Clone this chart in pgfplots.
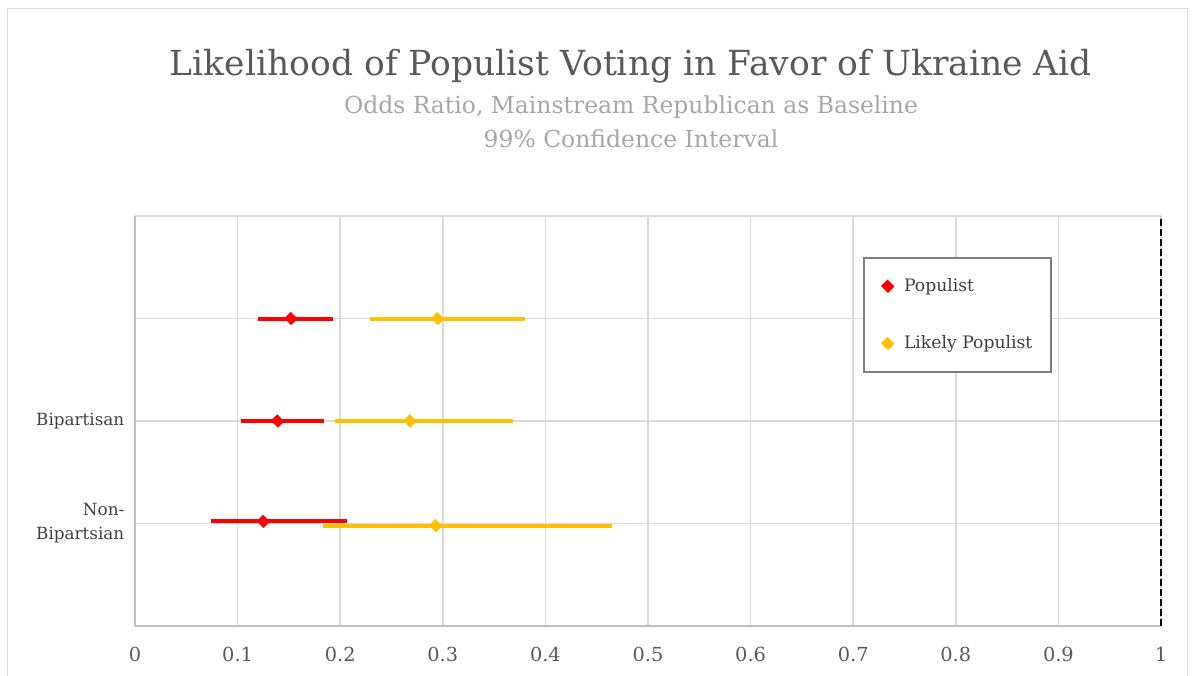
\documentclass[border=0pt]{standalone}
\usepackage{fontspec}
\setmainfont{DejaVu Serif}
\usepackage{pgfplots}
\usepackage{pgfplotstable}
\pgfplotsset{compat=1.18}

\definecolor{titlegray}{HTML}{595959}
\definecolor{subgray}{HTML}{A6A6A6}
\definecolor{labelgray}{HTML}{595959}
\definecolor{textdark}{HTML}{404040}
\definecolor{gridgray}{HTML}{D9D9D9}
\definecolor{axisgray}{HTML}{BFBFBF}
\definecolor{boxgray}{HTML}{7F7F7F}
\definecolor{popred}{HTML}{FF0000}
\definecolor{popyellow}{HTML}{FFC000}

% odds ratio (or) with 99% interval (lo, hi); y = row position
\pgfplotstableread{
y     or     lo     hi
3     0.152  0.120  0.193
2     0.139  0.103  0.184
1.02  0.125  0.074  0.207
}\populist
\pgfplotstableread{
y     or     lo     hi
3     0.295  0.229  0.380
2     0.268  0.195  0.368
0.98  0.293  0.183  0.465
}\likely

\pgfplotsset{
  ci marker/.style={only marks, mark=square*,
    mark options={rotate=45, yscale=1.1, draw=#1, fill=#1, line width=0.3pt},
    mark size=3.2pt, color=#1,
    error bars/.cd, x dir=both, x explicit, error mark=none,
    error bar style={line width=3pt, color=#1}},
}

\begin{document}
\begin{tikzpicture}
\begin{scope}[x=0.75pt,y=-0.75pt]
\useasboundingbox (0,0) rectangle (1194,675);
\clip (0,0) rectangle (1194,675);
% chart frame
\draw[gridgray,line width=0.75pt] (7,700) -- (7,8) -- (1187,8) -- (1187,700);

% titles
\node[font=\fontsize{25.9}{30}\selectfont,text=titlegray,anchor=base] at (631,75) {Likelihood of Populist Voting in Favor of Ukraine Aid};
\node[font=\fontsize{17.6}{21}\selectfont,text=subgray,anchor=base] at (631,113) {Odds Ratio, Mainstream Republican as Baseline};
\node[font=\fontsize{17.6}{21}\selectfont,text=subgray,anchor=base] at (631,147) {99\% Confidence Interval};
\end{scope}

\begin{axis}[
  at={(101.25pt,-469.5pt)}, anchor=south west,
  scale only axis,
  width=769.5pt, height=307.5pt,
  xmin=0, xmax=1, ymin=0, ymax=4,
  xtick={0,0.1,0.2,0.3,0.4,0.5,0.6,0.7,0.8,0.9,1},
  xticklabels={0,0.1,0.2,0.3,0.4,0.5,0.6,0.7,0.8,0.9,1},
  ytick={0,1,2,3,4},
  yticklabels={,{Non-\\Bipartsian},Bipartisan,,},
  major tick length=0pt,
  grid=major,
  major grid style={draw=gridgray,line width=1.1pt},
  axis x line*=bottom, axis y line*=left,
  axis line style={draw=axisgray,line width=1.1pt,-},
  xticklabel style={font=\fontsize{14.5}{17}\selectfont,text=labelgray,yshift=-12pt},
  yticklabel style={font=\fontsize{12.6}{18}\selectfont,text=textdark,align=right,xshift=-4.5pt},
  clip=false,
  legend style={
    at={(0.7096,0.9)}, anchor=north west,
    draw=boxgray, line width=1.5pt,
    inner xsep=13pt, inner ysep=14.5pt,
    row sep=29.6pt, column sep=6.5pt,
    font=\fontsize{12.9}{15}\selectfont, text=textdark,
    nodes={inner sep=1pt},
  },
  legend cell align=left,
  legend image code/.code={\draw[#1] plot coordinates {(0pt,0pt)};},
]
\addplot[dashed, dash pattern=on 5pt off 2.5pt, black, line width=1.5pt, forget plot] coordinates {(1,0) (1,4)};

\addplot[ci marker=popred]
  table[x=or, y=y,
        x error plus expr=\thisrow{hi}-\thisrow{or},
        x error minus expr=\thisrow{or}-\thisrow{lo}] {\populist};
\addlegendentry{Populist}

\addplot[ci marker=popyellow]
  table[x=or, y=y,
        x error plus expr=\thisrow{hi}-\thisrow{or},
        x error minus expr=\thisrow{or}-\thisrow{lo}] {\likely};
\addlegendentry{Likely Populist}
\end{axis}
\end{tikzpicture}
\end{document}
